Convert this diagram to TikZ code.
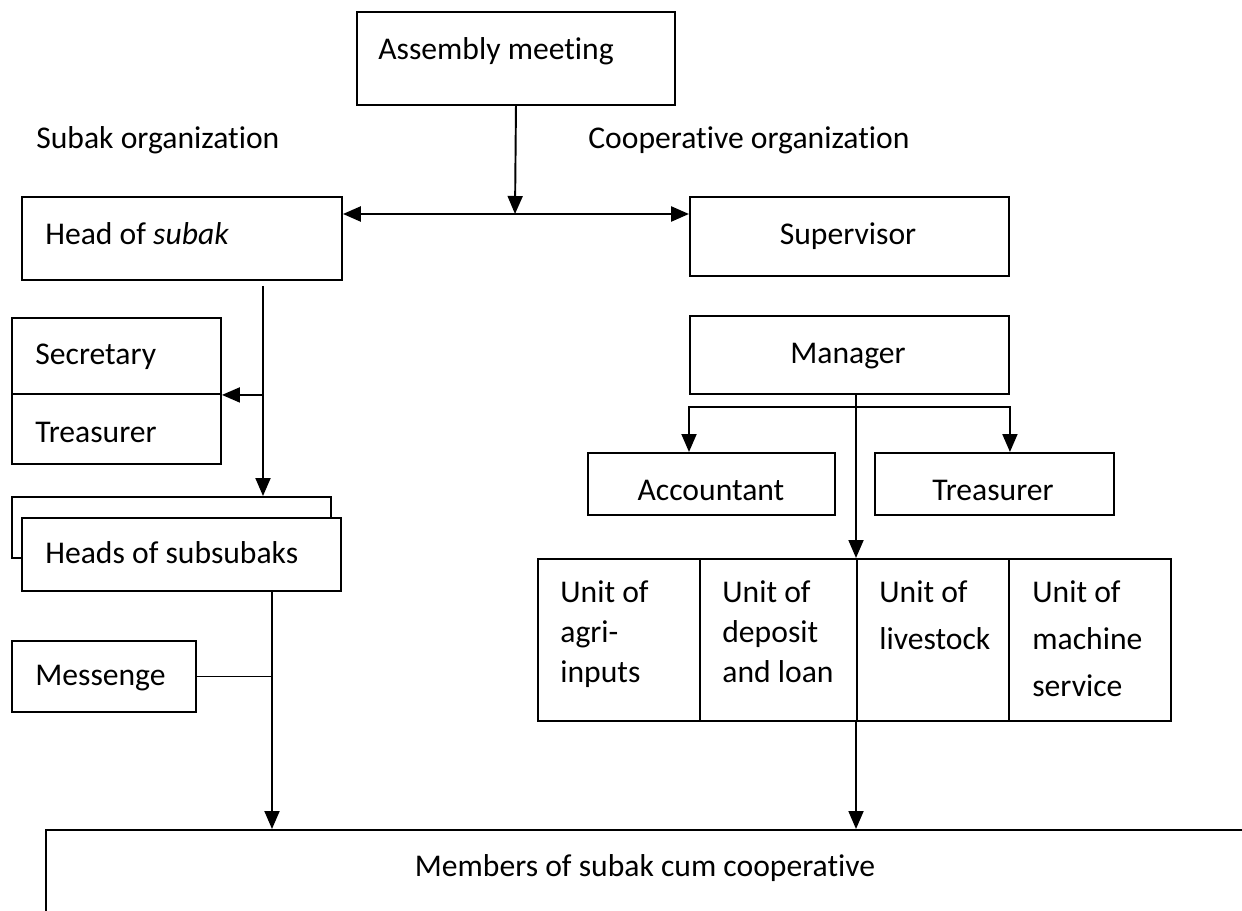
\documentclass[tikz,border=0pt]{standalone}
\usepackage{fontspec}
\setmainfont[Ligatures=NoCommon]{Carlito}
\usetikzlibrary{arrows.meta}
\tikzset{
  box/.style={draw, line width=1.1pt, fill=white, rectangle, inner sep=0pt, anchor=north west},
  txt/.style={font=\fontsize{18}{22.8}\selectfont, inner sep=0pt, anchor=base west},
  ctxt/.style={font=\fontsize{18}{22.8}\selectfont, inner sep=0pt, anchor=base},
  cell/.style={font=\fontsize{18}{22.8}\selectfont, inner sep=0pt, anchor=north west, align=left},
  arr/.style={line width=1.1pt, -{Triangle[length=3.6mm,width=3mm]}},
  arrs/.style={line width=1.1pt, {Triangle[length=3.6mm,width=3mm]}-{Triangle[length=3.6mm,width=3mm]}},
}
\begin{document}
\begin{tikzpicture}[x=0.2mm,y=-0.2mm]
\useasboundingbox (0,0) rectangle (1242,911);
\clip (0,0) rectangle (1242,911);

% top
\node[box, minimum width=63.6mm, minimum height=18.6mm] (asm) at (356,11) {};
\node[txt] at (378,60) {Assembly meeting};
\node[txt] at (36,149) {Subak organization};
\node[txt] at (588,149) {Cooperative organization};

% subak side
\node[box, minimum width=64mm, minimum height=16.6mm] (hos) at (21,196) {};
\node[txt] at (45,245) {Head of \textit{subak}};
\node[box, minimum width=41.8mm, minimum height=15.2mm] (sec) at (11,317) {};
\node[txt] at (35,364) {Secretary};
\node[box, minimum width=41.8mm, minimum height=14mm] (tre) at (11,393) {};
\node[txt] at (35,442) {Treasurer};
\node[box, minimum width=63.8mm, minimum height=12.2mm] (hsb) at (11,496) {};
\node[box, minimum width=63.8mm, minimum height=14.6mm] (hsf) at (21,517) {};
\node[txt] at (45,563) {Heads of subsubaks};
\node[box, minimum width=36.8mm, minimum height=14.2mm] (msg) at (11,640) {};
\node[txt] at (35,685) {Messenge};

% cooperative side
\node[box, minimum width=63.8mm, minimum height=15.8mm] (sup) at (689,196) {};
\node[ctxt] at (848,245) {Supervisor};
\node[box, minimum width=63.8mm, minimum height=15.6mm] (man) at (689,315) {};
\node[ctxt] at (848,363) {Manager};
\node[box, minimum width=49.4mm, minimum height=12.4mm] (acc) at (587,452) {};
\node[ctxt] at (711,500) {Accountant};
\node[box, minimum width=47.8mm, minimum height=12.4mm] (tr2) at (874,452) {};
\node[ctxt] at (993,500) {Treasurer};

% units
\node[box, minimum width=32.4mm, minimum height=32.4mm] (u1) at (537,558) {};
\node[box, minimum width=31.4mm, minimum height=32.4mm] (u2) at (699,558) {};
\node[box, minimum width=30.4mm, minimum height=32.4mm] (u3) at (856,558) {};
\node[box, minimum width=32.4mm, minimum height=32.4mm] (u4) at (1008,558) {};
\node[cell] at (560,580) {Unit of\\agri-\\inputs};
\node[cell] at (722,580) {Unit of\\deposit\\and loan};
\node[cell, font=\fontsize{18}{26.8}\selectfont] at (879,580) {Unit of\\livestock};
\node[cell, font=\fontsize{18}{26.8}\selectfont] at (1032,580) {Unit of\\machine\\service};

% members
\node[box, minimum width=246mm, minimum height=20mm] (mem) at (45,829) {};
\node[ctxt] at (645,876) {Members of subak cum cooperative};

% connectors
\coordinate (j1) at (515,214);
\draw[arr] (asm.south) -- (j1);
\draw[arrs, line width=1.4pt] (hos.east |- j1) -- (sup.west |- j1);

\coordinate (c1) at (263,0);
\draw[arr] ([yshift=-1mm]hos.south -| c1) -- (hsb.north -| c1);
\draw[arr] (sec.south east -| c1) -- (sec.south east);

\coordinate (c2) at (272,0);
\draw[arr] (hsf.south -| c2) -- (mem.north -| c2);
\draw[line width=1.1pt] (msg.east) -- (msg.east -| c2);

\coordinate (br) at (848,407);
\draw[arrs] (man.west |- acc.north) |- (br) -| (man.east |- tr2.north);
\draw[arr] (man.south -| u3.north west) -- (u3.north west);
\draw[arr] (u3.south west) -- (u3.south west |- mem.north);
\end{tikzpicture}
\end{document}
